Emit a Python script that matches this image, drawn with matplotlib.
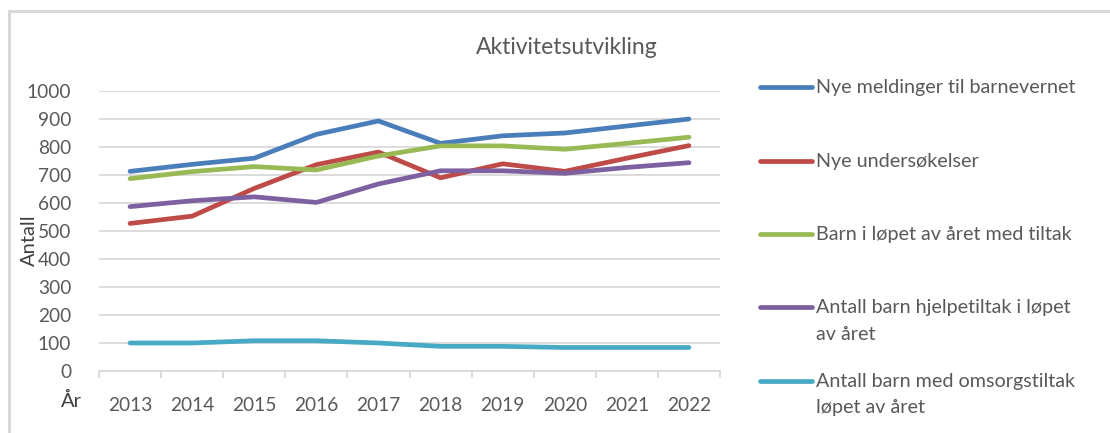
import matplotlib
matplotlib.use("Agg")
import matplotlib.pyplot as plt
from matplotlib.lines import Line2D
from matplotlib.patches import Rectangle

years = ["2013", "2014", "2015", "2016", "2017", "2018", "2019", "2020", "2021", "2022"]
nye_meldinger = [713, 738, 760, 845, 893, 813, 840, 850, 875, 900]
nye_undersokelser = [527, 553, 652, 737, 782, 690, 740, 713, 760, 805]
barn_med_tiltak = [687, 712, 730, 718, 768, 804, 804, 792, 813, 835]
barn_hjelpetiltak = [587, 608, 622, 602, 668, 715, 715, 706, 727, 744]
barn_omsorgstiltak = [100, 100, 108, 108, 100, 88, 88, 84, 84, 84]

series_labels = [
    "Nye meldinger til barnevernet",
    "Nye undersøkelser",
    "Barn i løpet av året med tiltak",
    "Antall barn hjelpetiltak i løpet\nav året",
    "Antall barn med omsorgstiltak\nløpet av året",
]
series_values = [nye_meldinger, nye_undersokelser, barn_med_tiltak,
                 barn_hjelpetiltak, barn_omsorgstiltak]
colors = ["#4A7EBB", "#BE4B48", "#98B954", "#7D60A0", "#46AAC5"]

W, H = 1110, 433
fig = plt.figure(figsize=(W / 100, H / 100), dpi=100)
FONT = "Lato"
plt.rcParams['font.family'] = [FONT, 'DejaVu Sans']

# outer chart frame (partially cropped)
fig.add_artist(Rectangle((9 / W, -0.1), 1.2, 1 - 11 / H + 0.1,
                         transform=fig.transFigure, fill=False,
                         edgecolor="#D9D9D9", linewidth=2.2))

ax_left, ax_right = 99 / W, 720 / W
ax_top, ax_bottom = 1 - 91 / H, 1 - 371 / H
ax = fig.add_axes([ax_left, ax_bottom, ax_right - ax_left, ax_top - ax_bottom])

x = list(range(len(years)))
for vals, c in zip(series_values, colors):
    ax.plot(x, vals, color=c, linewidth=3.4, solid_capstyle="round",
            solid_joinstyle="round", zorder=3)

ax.set_xlim(-0.5, len(years) - 0.5)
ax.set_ylim(0, 1000)
ax.set_yticks(range(0, 1001, 100))
ax.set_xticks(x)
ax.set_xticklabels(years)
ax.set_xticks([i - 0.5 for i in range(len(years) + 1)], minor=True)

ax.grid(axis="y", color="#D9D9D9", linewidth=1.3, zorder=0)
for s in ["top", "right", "left"]:
    ax.spines[s].set_visible(False)
ax.spines["bottom"].set_color("#D9D9D9")
ax.spines["bottom"].set_linewidth(1.3)

ax.tick_params(axis="y", length=0, pad=20, labelsize=13.8, labelcolor="#595959")
ax.tick_params(axis="x", which="major", length=0, pad=19, labelsize=13.8,
               labelcolor="#595959")
ax.tick_params(axis="x", which="minor", length=5, width=1.3, color="#D9D9D9",
               direction="out")

fig.text(29 / W, 1 - 240 / H, "Antall", rotation=90, ha="center", va="center",
         fontsize=14.5, color="#404040")
fig.text(71 / W, 1 - 401 / H, "År", ha="center", va="center",
         fontsize=14.5, color="#404040")
fig.text(567 / W, 1 - 47 / H, "Aktivitetsutvikling", ha="center", va="center",
         fontsize=16.5, color="#595959")

# legend drawn manually
leg_y = [87, 161, 234, 307, 381]
for lab, c, yy in zip(series_labels, colors, leg_y):
    fig.add_artist(Line2D([760 / W, 812 / W], [1 - yy / H, 1 - yy / H],
                          transform=fig.transFigure, color=c, linewidth=3.4,
                          solid_capstyle="round"))
    for k, line in enumerate(lab.split("\n")):
        fig.text(816 / W, 1 - (yy + 27 * k) / H, line, ha="left", va="center",
                 fontsize=14.2, color="#595959")

fig.savefig("out.png", dpi=100)
